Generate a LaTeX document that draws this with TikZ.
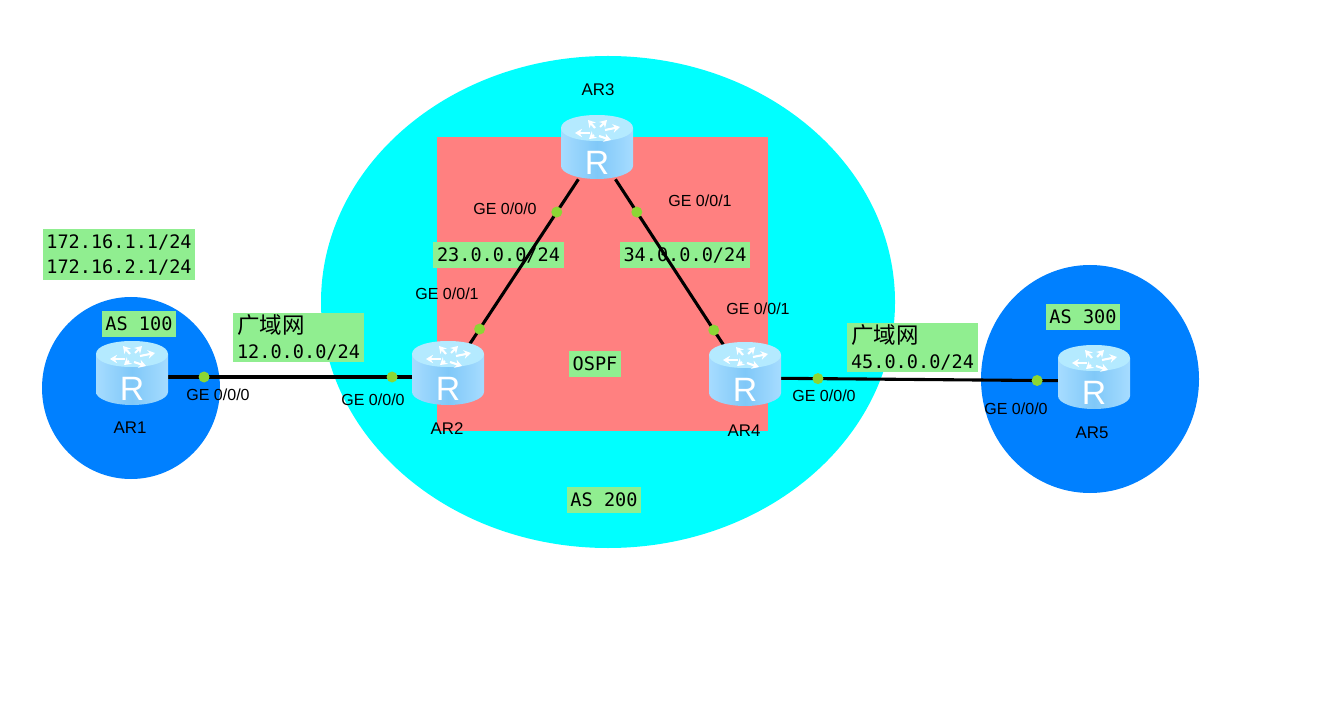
\documentclass[tikz,border=0pt]{standalone}
\usepackage{fontspec}
\setmainfont{Liberation Sans}
\newfontfamily\labelmono{DejaVu Sans Mono}
\newfontfamily\labelcjk{Noto Sans CJK SC}
\usetikzlibrary{arrows.meta}
\definecolor{netCyan}{HTML}{00FFFF}
\definecolor{netRed}{HTML}{FF8080}
\definecolor{netBlue}{HTML}{0080FF}
\definecolor{netLabel}{HTML}{90EE90}
\definecolor{netPort}{HTML}{8CD634}
\definecolor{netSide}{HTML}{80C8F8}
\definecolor{netEdge}{HTML}{A6DCFF}
\definecolor{netTop}{HTML}{B4EAFF}
\newcommand{\wantext}[1]{\raisebox{2pt}{\labelcjk\fontsize{16}{20}\selectfont 广域网}\\\raisebox{1.5pt}{#1}}
\tikzset{
  routerbox/.style={minimum width=1.75cm,minimum height=1.4cm,inner sep=0pt},
  link/.style={draw=black,line width=2.2pt},
  port/.style={circle,fill=netPort,inner sep=0pt,minimum size=0.275cm},
  portname/.style={text=black,font=\fontsize{11.4}{13}\selectfont},
  devname/.style={text=black,font=\fontsize{12}{14}\selectfont},
  tag/.style 2 args={fill=netLabel,inner sep=0pt,align=left,text=black,
    minimum width=#1*0.025cm,minimum height=#2*0.025cm,
    font=\labelmono\fontsize{13.2}{17.8}\selectfont},
  router/.pic={
    \path[left color=netEdge,right color=netEdge,middle color=netSide]
      (-36,-23) -- (-36,15) .. controls (-36,22) and (-20,28) .. (0,28)
      .. controls (20,28) and (36,22) .. (36,15) -- (36,-23) -- cycle;
    \path[fill=netTop] (-36,-23) .. controls (-36,-31) and (-20,-36) .. (0,-36)
      .. controls (20,-36) and (36,-31) .. (36,-23)
      .. controls (36,-15) and (20,-10) .. (0,-10)
      .. controls (-20,-10) and (-36,-15) .. (-36,-23) -- cycle;
    \foreach \ax/\ay/\bx/\by in {-2/-23/-9/-31,-7/-18/-22/-18,8/-21/23/-24,2/-15/14/-11,
        3/-24/10/-31,-3/-16/-8/-12}
      \draw[white,line width=1.5pt,-{Stealth[length=5pt,width=6pt]}] (\ax,\ay) -- (\bx,\by);
    \node[text=white,inner sep=0pt,font=\fontsize{24}{24}\selectfont] (-letter) at (0,12) {R};
  }
}
\begin{document}
\begin{tikzpicture}[x=0.025cm,y=-0.025cm]
  \fill[white] (0,0) rectangle (1332,701);
  \fill[netCyan] (608,302) ellipse [x radius=287,y radius=246];
  \fill[netRed] (437,137) rectangle (768,431);
  \fill[netBlue] (131,388) ellipse [x radius=89,y radius=91];
  \fill[netBlue] (1090,379) ellipse [x radius=109,y radius=114];

  \node[tag={152}{51}] (hosts) at (119,254.5) {172.16.1.1/24\\172.16.2.1/24};
  \node[tag={74}{25}] (as100) at (139,324) {AS 100};
  \node[tag={131}{49}] (wan12) at (298.5,337.5) {\wantext{12.0.0.0/24}};
  \node[tag={131}{26}] (net23) at (498.5,255) {23.0.0.0/24};
  \node[tag={130}{26}] (net34) at (685,255) {34.0.0.0/24};
  \node[tag={52}{26}] (ospf) at (595,364) {OSPF};
  \node[tag={74}{26}] (as200) at (604,500) {AS 200};
  \node[tag={131}{49}] (wan45) at (912.5,347.5) {\wantext{45.0.0.0/24}};
  \node[tag={74}{26}] (as300) at (1083,317) {AS 300};

  \node[routerbox] (ar1) at (132,377) {};
  \node[routerbox] (ar2) at (448,377) {};
  \node[routerbox] (ar3) at (597,151) {};
  \node[routerbox] (ar4) at (745,378) {};
  \node[routerbox] (ar5) at (1094,381) {};

  \draw[link] (ar1) -- (ar2);
  \draw[link] (ar2) -- (ar3);
  \draw[link] (ar3) -- (ar4);
  \draw[link] (ar4) -- (ar5);

  \path (ar1.center) -- (ar2.center)
    node[port,pos=0.228] (p1a) {} node[port,pos=0.823] (p2a) {};
  \path (ar2.center) -- (ar3.center)
    node[port,pos=0.212] (p2b) {} node[port,pos=0.73] (p3a) {};
  \path (ar3.center) -- (ar4.center)
    node[port,pos=0.269] (p3b) {} node[port,pos=0.789] (p4b) {};
  \path (ar4.center) -- (ar5.center)
    node[port,pos=0.209] (p4a) {} node[port,pos=0.837] (p5a) {};

  \foreach \r in {ar1,ar2,ar3,ar4,ar5}
    \pic (\r) at (\r) {router};

  \node[devname] (ar1name) at (130,428) {AR1};
  \node[devname] (ar2name) at (447,429) {AR2};
  \node[devname] (ar3name) at (598,90) {AR3};
  \node[devname] (ar4name) at (744,431) {AR4};
  \node[devname] (ar5name) at (1092,433) {AR5};

  \node[portname] (p1atext) at (218,395) {GE 0/0/0};
  \node[portname] (p2atext) at (373,400) {GE 0/0/0};
  \node[portname] (p2btext) at (447,294) {GE 0/0/1};
  \node[portname] (p3atext) at (505,209) {GE 0/0/0};
  \node[portname] (p3btext) at (700,201) {GE 0/0/1};
  \node[portname] (p4btext) at (758,309) {GE 0/0/1};
  \node[portname] (p4atext) at (824,396) {GE 0/0/0};
  \node[portname] (p5atext) at (1016,409) {GE 0/0/0};
\end{tikzpicture}
\end{document}
